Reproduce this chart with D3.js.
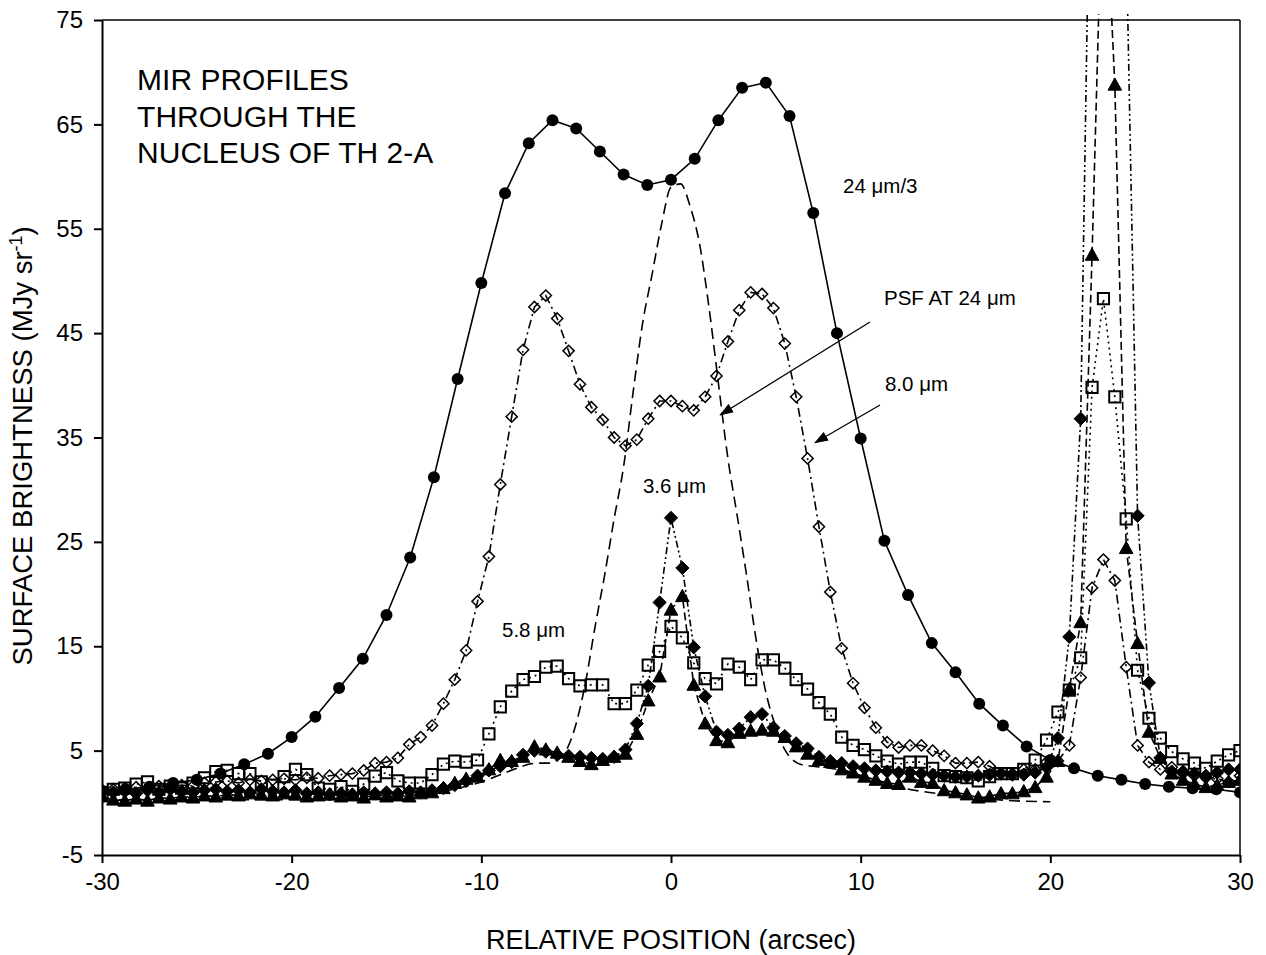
<!DOCTYPE html>
<html>
<head>
<meta charset="utf-8">
<script src="https://cdn.jsdelivr.net/npm/d3@7"></script>
<style>
body{margin:0;background:#fff;}
text{font-family:"Liberation Sans",Arial,Helvetica,sans-serif;fill:#000;}
</style>
</head>
<body>
<div id="chart"></div>
<script>
// positions of the IRAC samples (arcsec)
const irac_x=[
-30,-29.4,-28.8,-28.2,-27.6,-27,-26.4,-25.8,-25.2,-24.6,
-24,-23.4,-22.8,-22.2,-21.6,-21,-20.4,-19.8,-19.2,-18.6,
-18,-17.4,-16.8,-16.2,-15.6,-15,-14.4,-13.8,-13.2,-12.6,
-12,-11.4,-10.8,-10.2,-9.6,-9,-8.4,-7.8,-7.2,-6.6,
-6,-5.4,-4.8,-4.2,-3.6,-3,-2.4,-1.8,-1.2,-0.6,
0,0.6,1.2,1.8,2.4,3,3.6,4.2,4.8,5.4,
6,6.6,7.2,7.8,8.4,9,9.6,10.2,10.8,11.4,
12,12.6,13.2,13.8,14.4,15,15.6,16.2,16.8,17.4,
18,18.6,19.2,19.8,20.4,21,21.6,22.2,22.8,23.4,
24,24.6,25.2,25.8,26.4,27,27.6,28.2,28.8,29.4,
30];

// 8.0 um, open diamonds
const w80=[
1.2,1.3,1.4,1.5,1.4,1.6,1.5,1.7,1.6,1.9,
2.0,2.1,1.9,2.2,2.1,2.2,2.3,2.2,2.4,2.35,
2.6,2.7,2.8,3.1,3.8,3.9,4.3,5.6,6.3,7.4,
9.5,11.8,14.6,19.3,23.6,30.5,37.0,43.4,47.5,48.6,
46.4,43.3,40.1,37.9,36.7,35.0,34.2,34.8,36.8,38.5,
38.5,38.0,37.6,38.9,40.9,44.2,47.2,48.9,48.75,47.4,
44.0,38.9,33.0,26.45,20.2,14.8,11.45,9.1,7.2,5.8,
5.3,5.5,5.5,5.0,4.5,3.8,3.8,3.9,3.5,2.8,
2.8,3.2,3.2,3.9,4.0,5.5,12.0,20.6,23.3,21.3,
13.0,5.5,3.9,3.2,3.4,2.8,2.6,2.4,2.3,2.0,
2.6];

// 5.8 um, open squares
const w58=[
1.0,1.3,1.4,1.8,2.0,1.3,1.6,1.4,1.9,2.4,
3.0,3.1,2.8,2.8,2.0,1.7,2.5,3.2,2.7,1.4,
1.3,1.55,1.1,1.8,2.55,2.9,2.1,1.9,1.9,2.7,
3.7,4.0,3.9,4.1,6.6,9.2,10.7,11.8,12.1,13.0,
13.1,11.9,11.2,11.3,11.3,9.5,9.5,10.8,13.2,14.5,
16.9,15.8,13.4,11.9,11.4,13.3,13.0,11.8,13.7,13.7,
12.9,11.8,10.9,9.6,8.5,6.3,5.5,5.1,4.5,4.0,
3.7,3.9,3.9,3.3,2.6,2.5,2.4,2.1,2.5,2.8,
2.8,3.2,4.1,6.0,8.7,10.8,13.9,39.8,48.3,38.9,
27.2,12.7,8.1,6.2,4.9,4.2,3.8,3.3,4.0,4.6,
5.0];

// 3.6 um, filled diamonds
const w36=[
1.2,1.0,1.1,0.9,1.2,1.0,1.3,1.1,1.0,1.2,
1.3,1.1,1.2,1.0,1.3,1.1,1.0,1.2,0.9,1.0,
0.8,0.9,0.8,1.0,0.9,1.0,0.9,1.1,1.0,1.2,
1.4,1.7,2.1,2.6,3.1,3.5,3.9,4.6,5.0,4.9,
4.6,4.5,4.4,4.3,4.2,4.4,5.1,7.6,11.2,19.2,
27.3,22.5,14.9,10.2,6.8,6.5,7.1,8.2,8.5,7.2,
6.4,5.7,5.2,4.4,4.0,3.8,3.5,3.3,3.1,3.0,
2.9,2.9,2.8,2.7,2.6,2.5,2.5,2.6,2.7,2.8,
2.7,2.7,2.9,3.4,6.2,15.9,36.8,104,135,130,
83,27.5,11.5,4.3,3.0,3.0,2.8,2.6,2.9,3.2,
3.2];

// 4.5 um, filled triangles
const w45=[
0.6,0.3,0.2,0.4,0.2,0.5,0.4,0.6,0.5,0.7,
0.6,0.8,0.7,0.9,0.8,0.7,0.9,0.8,0.6,0.7,
0.8,0.6,0.7,0.5,0.8,0.6,0.7,0.6,0.9,1.0,
1.4,1.9,2.3,2.5,3.2,4.1,4.0,4.4,5.4,5.1,
4.8,4.4,4.0,3.7,4.1,4.4,4.7,6.6,9.8,12.1,
18.5,19.8,11.3,7.6,6.0,5.8,6.7,6.9,7.0,6.9,
6.3,5.4,4.7,4.1,3.9,3.2,2.9,2.5,2.2,1.9,
1.8,2.5,2.0,1.9,1.2,1.0,0.8,0.5,0.6,0.9,
0.9,1.1,1.5,2.5,4.0,10.9,17.3,52.5,92,68.8,
24.4,15.3,6.8,4.3,2.8,2.2,1.8,1.5,1.7,2.0,
2.2];

// 24 um / 3, filled circles
const mips_x=[
-30,-28.75,-27.5,-26.25,-25,-23.75,-22.5,-21.25,-20,-18.75,
-17.5,-16.25,-15,-13.75,-12.5,-11.25,-10,-8.75,-7.5,-6.25,
-5,-3.75,-2.5,-1.25,0,1.25,2.5,3.75,5,6.25,
7.5,8.75,10,11.25,12.5,13.75,15,16.25,17.5,18.75,
20,21.25,22.5,23.75,25,26.25,27.5,28.75,30];
const w24=[
1.1,1.3,1.55,1.9,2.2,2.8,3.7,4.7,6.3,8.25,
11.0,13.8,18.0,23.5,31.2,40.6,49.8,58.4,63.2,65.4,
64.6,62.4,60.2,59.2,59.7,61.7,65.4,68.5,69.0,65.8,
56.5,45.0,34.9,25.1,19.9,15.3,12.5,9.5,7.4,5.4,
4.1,3.3,2.6,2.2,1.8,1.55,1.4,1.3,1.0];

// PSF at 24 um, dashed curve
const psf_x=[-30,-28,-26,-24,-22,-20,-18,-16,-14,-12,-11,-10,-9,-8,-7.5,-7,-6.5,-6,-5.5,-5,
-4.5,-4,-3.5,-3,-2.5,-2,-1.5,-1,-0.5,0,0.5,1,1.5,2,2.5,3,3.5,4,4.5,5,
5.5,6,6.5,7,7.5,8,9,10,11,12,14,16,18,20];
const psf=[0.3,0.3,0.3,0.3,0.3,0.3,0.3,0.4,0.6,1.1,1.5,2.0,2.7,3.4,3.7,3.8,3.8,4.1,5.1,7.6,
11.6,16.9,21.8,27.2,32.2,39.3,45.9,50.6,55.4,59.0,59.3,57.2,53.6,47.5,40.2,33.0,27.4,21.6,15.5,10.6,
7.4,5.1,4.0,3.6,3.5,3.4,3.1,2.5,2.0,1.5,0.9,0.5,0.2,0.1];

const x_ticks=[-30,-20,-10,0,10,20,30];
const y_ticks=[-5,5,15,25,35,45,55,65,75];
const title_lines=["MIR PROFILES","THROUGH THE","NUCLEUS OF TH 2-A"];

const width=1266, height=955;
const margin_left=102, margin_right=26, margin_top=20, margin_bottom=100;

let svg=d3.select('#chart').append('svg')
    .attr('width',width)
    .attr('height',height);

let x_scale=d3.scaleLinear().domain([-30,30]).range([margin_left,width-margin_right]);
let y_scale=d3.scaleLinear().domain([-5,75]).range([height-margin_bottom,margin_top]);

svg.append('clipPath').attr('id','plotclip')
    .append('rect')
    .attr('x',margin_left).attr('y',margin_top-6)
    .attr('width',width-margin_right-margin_left)
    .attr('height',height-margin_bottom-margin_top+6);

svg.append('defs').append('marker')
    .attr('id','arrowhead')
    .attr('viewBox','0 0 14 10')
    .attr('refX',13).attr('refY',5)
    .attr('markerWidth',14).attr('markerHeight',10)
    .attr('markerUnits','userSpaceOnUse')
    .attr('orient','auto')
    .append('path')
    .attr('d','M0,0L14,5L0,10Z')
    .attr('fill','black');

// frame
svg.append('line')
    .attr('x1',x_scale(-30)).attr('x2',x_scale(30))
    .attr('y1',y_scale(75)).attr('y2',y_scale(75))
    .attr('stroke','black').attr('stroke-width',1.5);
svg.append('line')
    .attr('x1',x_scale(30)).attr('x2',x_scale(30))
    .attr('y1',y_scale(75)).attr('y2',y_scale(-5))
    .attr('stroke','black').attr('stroke-width',1.5);

let xAxis=svg.append('g')
    .attr('transform','translate(0,'+y_scale(-5)+')')
    .call(d3.axisBottom(x_scale).tickValues(x_ticks).tickFormat(d=>String(d))
        .tickSize(8).tickSizeOuter(0).tickPadding(10));
let yAxis=svg.append('g')
    .attr('transform','translate('+x_scale(-30)+',0)')
    .call(d3.axisLeft(y_scale).tickValues(y_ticks).tickFormat(d=>String(d))
        .tickSize(8).tickSizeOuter(0).tickPadding(11));
[xAxis,yAxis].forEach(a=>{
    a.selectAll('path,line').attr('stroke','black').attr('stroke-width',2);
    a.selectAll('text').style('font-size','24px').attr('fill','black')
        .style('font-family','"Liberation Sans",Arial,sans-serif');
});

svg.append('text')
    .attr('x',x_scale(0)).attr('y',949)
    .attr('text-anchor','middle')
    .style('font-size','27px')
    .text('RELATIVE POSITION (arcsec)');

let ylab=svg.append('text')
    .attr('transform','translate(32,'+y_scale(34.2)+') rotate(-90)')
    .attr('text-anchor','middle')
    .style('font-size','27.5px');
ylab.append('tspan').text('SURFACE BRIGHTNESS (MJy sr');
ylab.append('tspan').attr('dy',-10).style('font-size','18px').text('-1');
ylab.append('tspan').attr('dy',10).text(')');

// marker shapes
function diamond(s){return 'M0,'+(-s)+'L'+s+',0L0,'+s+'L'+(-s)+',0Z';}
function square(s){return 'M'+(-s)+','+(-s)+'H'+s+'V'+s+'H'+(-s)+'Z';}
function triangle(s){return 'M0,'+(-s)+'L'+s+','+(s*0.8)+'L'+(-s)+','+(s*0.8)+'Z';}

const series=[
    {x:mips_x,y:w24,dash:null,shape:null,fill:'black',circle:true},
    {x:irac_x,y:w80,dash:'9,4,2,4',shape:diamond(5.6),fill:'none',sw:1.5},
    {x:irac_x,y:w58,dash:'2,4',shape:square(5.6),fill:'none',sw:2},
    {x:irac_x,y:w36,dash:'7,3,2,3,2,3',shape:diamond(6.6),fill:'black',sw:1},
    {x:irac_x,y:w45,dash:'8,4',shape:triangle(6.8),fill:'black',sw:1}
];

let plot=svg.append('g').attr('clip-path','url(#plotclip)');

let line=d3.line()
    .x(d=>x_scale(d[0]))
    .y(d=>y_scale(d[1]));

plot.append('path')
    .datum(psf_x.map((v,i)=>[v,psf[i]]))
    .attr('d',d3.line().x(d=>x_scale(d[0])).y(d=>y_scale(d[1])).curve(d3.curveMonotoneX))
    .attr('fill','none')
    .attr('stroke','black')
    .attr('stroke-width',1.6)
    .attr('stroke-dasharray','11,6');

series.forEach(s=>{
    let pts=s.x.map((v,i)=>[v,s.y[i]]);
    plot.append('path')
        .datum(pts)
        .attr('d',line)
        .attr('fill','none')
        .attr('stroke','black')
        .attr('stroke-width',1.6)
        .attr('stroke-dasharray',s.dash);
    let shown=pts.filter(d=>d[1]<=75);
    if(s.circle){
        plot.selectAll(null)
            .data(shown)
            .enter()
            .append('circle')
            .attr('cx',d=>x_scale(d[0]))
            .attr('cy',d=>y_scale(d[1]))
            .attr('r',6)
            .attr('fill','black');
    } else {
        plot.selectAll(null)
            .data(shown)
            .enter()
            .append('path')
            .attr('transform',d=>'translate('+x_scale(d[0])+','+y_scale(d[1])+')')
            .attr('d',s.shape)
            .attr('fill',s.fill)
            .attr('stroke','black')
            .attr('stroke-width',s.sw);
    }
});

// title block
svg.append('text')
    .attr('x',x_scale(-28.15)).attr('y',y_scale(68.3))
    .style('font-size','30px')
    .selectAll('tspan')
    .data(title_lines)
    .enter()
    .append('tspan')
    .attr('x',x_scale(-28.15))
    .attr('dy',(d,i)=>i==0?0:36.7)
    .text(d=>d);

// labels
const notes=[
    {x:9.07,y:58.43,t:'24 μm/3'},
    {x:11.23,y:47.7,t:'PSF AT 24 μm'},
    {x:11.28,y:39.46,t:'8.0 μm'},
    {x:-1.48,y:29.7,t:'3.6 μm'},
    {x:-8.91,y:15.9,t:'5.8 μm'}
];
svg.selectAll(null)
    .data(notes)
    .enter()
    .append('text')
    .attr('x',d=>x_scale(d.x))
    .attr('y',d=>y_scale(d.y))
    .style('font-size','20.5px')
    .text(d=>d.t);

const arrows=[
    {x1:10.49,y1:46.07,x2:2.59,y2:37.16},
    {x1:11.02,y1:38.11,x2:7.59,y2:34.5}
];
svg.selectAll(null)
    .data(arrows)
    .enter()
    .append('line')
    .attr('x1',d=>x_scale(d.x1)).attr('y1',d=>y_scale(d.y1))
    .attr('x2',d=>x_scale(d.x2)).attr('y2',d=>y_scale(d.y2))
    .attr('stroke','black')
    .attr('stroke-width',1.3)
    .attr('marker-end','url(#arrowhead)');
</script>
</body>
</html>
